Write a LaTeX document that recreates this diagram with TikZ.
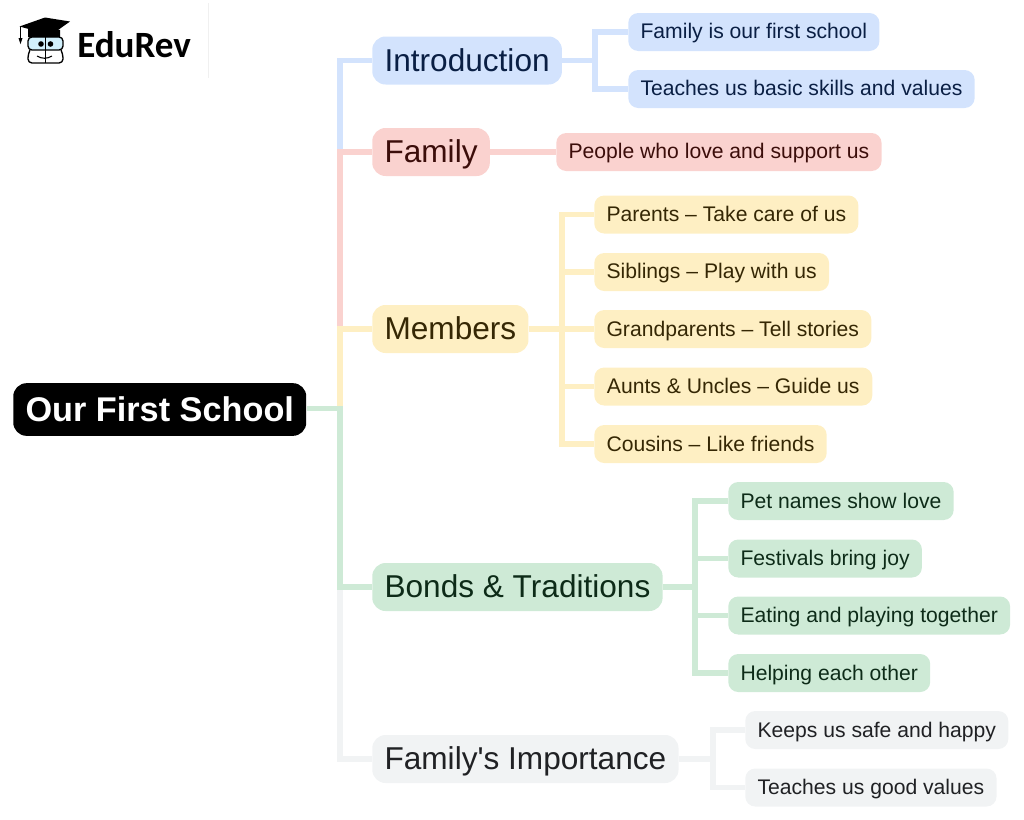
\documentclass[tikz,border=0pt]{standalone}
\usepackage{fontspec}
\setmainfont{Liberation Sans}
\newfontfamily\logofont{Carlito}

\definecolor{bluefill}{HTML}{D3E3FD}
\definecolor{blueink}{HTML}{0A1F44}
\definecolor{redfill}{HTML}{FAD2CF}
\definecolor{redink}{HTML}{3B0D0A}
\definecolor{yellowfill}{HTML}{FEEFC3}
\definecolor{yellowink}{HTML}{352704}
\definecolor{greenfill}{HTML}{CEEAD6}
\definecolor{greenink}{HTML}{0D2B18}
\definecolor{grayfill}{HTML}{F1F3F4}
\definecolor{grayink}{HTML}{202124}

\tikzset{
    box/.style={anchor=west, inner ysep=0pt, text depth=1pt},
    root/.style={box, rounded corners=10pt, fill=black, text=white, font=\fontsize{25.7}{30}\bfseries\selectfont, minimum height=39.5pt, inner xsep=9.2pt},
    branch/.style={box, rounded corners=10pt, fill=#1fill, text=#1ink, font=\fontsize{23.7}{28}\selectfont, minimum height=36pt, inner xsep=9.2pt},
    leaf/.style={box, rounded corners=7.5pt, fill=#1fill, text=#1ink, font=\fontsize{15.85}{19}\selectfont, minimum height=28.5pt, inner xsep=9.2pt},
    link/.style={draw=#1fill, line width=4pt}
}

\begin{document}
\begin{tikzpicture}[x=0.75pt,y=-0.75pt]
    \useasboundingbox (0,0) rectangle (1024,819);

    % logo
    \draw[draw=black!6, thin] (208.5,3) -- (208.5,78);
    \draw[black, line width=1pt, rounded corners=3pt] (30,50) -- (28,54) -- (28,63) -- (63,63) -- (63,54) -- (61,50);
    \draw[black, line width=1pt, rounded corners=3pt, fill=cyan!18] (28,37) rectangle (63,50);
    \draw[black, line width=1pt] (45.5,37) -- (45.5,63);
    \draw[black, line width=.8pt] (37,56) .. controls (42,59) and (47,59) .. (52,56);
    \fill[black] (28,29) -- (28,37) -- (60,37) -- (60,30) -- cycle;
    \fill[black] (19.5,26.5) -- (45,17.5) -- (70,21.5) -- (51,35) -- cycle;
    \draw[black, line width=.8pt] (20.5,27) -- (20.5,38);
    \fill[black] (18.5,38) -- (22.5,38) -- (20.5,44) -- cycle;
    \fill[black] (41,44) circle (2.8);
    \fill[black] (50.5,44) circle (2.8);
    \node[anchor=west, inner sep=0pt, font=\logofont\fontsize{27.8}{32}\bfseries\selectfont] (logo) at (77,44.5) {EduRev};

    % centre and the spine beside it
    \node[root] (school) at (13,409.5) {Our First School};
    \coordinate (spine) at (340,408.5);

    % main branches
    \node[branch=blue] (intro) at (372,60.5) {Introduction};
    \node[branch=red] (family) at (372,152) {Family};
    \node[branch=yellow] (members) at (372,329) {Members};
    \node[branch=green] (bonds) at (372,587) {Bonds \& Traditions};
    \node[branch=gray] (importance) at (372,759) {Family\textquotesingle s Importance};

    % order matters, each one covers part of the last
    \draw[link=blue] (school.east |- spine) -- (spine) |- (intro.west);
    \draw[link=red] (school.east |- spine) -- (spine) |- (family.west);
    \draw[link=yellow] (school.east |- spine) -- (spine) |- (members.west);
    \draw[link=gray] (school.east |- spine) -- (spine) |- (importance.west);
    \draw[link=green] (school.east |- spine) -- (spine) |- (bonds.west);

    % introduction
    \node[leaf=blue] (firstschool) at (628,32) {Family is our first school};
    \node[leaf=blue] (skills) at (628,89) {Teaches us basic skills and values};
    \coordinate (introfork) at (595,60.5);
    \draw[link=blue] (intro.east) -- (introfork) |- (firstschool.west);
    \draw[link=blue] (intro.east) -- (introfork) |- (skills.west);

    % family
    \node[leaf=red] (people) at (556,152) {People who love and support us};
    \draw[link=red] (family.east) -- (people.west);

    % members
    \node[leaf=yellow] (parents) at (594,214.5) {Parents – Take care of us};
    \node[leaf=yellow] (siblings) at (594,272) {Siblings – Play with us};
    \node[leaf=yellow] (grandparents) at (594,329) {Grandparents – Tell stories};
    \node[leaf=yellow, minimum width=208.5pt] (aunts) at (594,386.5) {Aunts \& Uncles – Guide us};
    \node[leaf=yellow] (cousins) at (594,444) {Cousins – Like friends};
    \coordinate (membersfork) at (562,329);
    \foreach \n in {parents,siblings,grandparents,aunts,cousins}
        \draw[link=yellow] (members.east) -- (membersfork) |- (\n.west);

    % bonds
    \node[leaf=green] (petnames) at (728,501) {Pet names show love};
    \node[leaf=green] (festivals) at (728,558.5) {Festivals bring joy};
    \node[leaf=green] (eating) at (728,615.5) {Eating and playing together};
    \node[leaf=green] (helping) at (728,673) {Helping each other};
    \coordinate (bondsfork) at (695,587);
    \foreach \n in {petnames,festivals,eating,helping}
        \draw[link=green] (bonds.east) -- (bondsfork) |- (\n.west);

    % importance
    \node[leaf=gray] (safe) at (745,730) {Keeps us safe and happy};
    \node[leaf=gray] (goodvalues) at (745,787.5) {Teaches us good values};
    \coordinate (importancefork) at (713,759);
    \draw[link=gray] (importance.east) -- (importancefork) |- (safe.west);
    \draw[link=gray] (importance.east) -- (importancefork) |- (goodvalues.west);
\end{tikzpicture}
\end{document}
